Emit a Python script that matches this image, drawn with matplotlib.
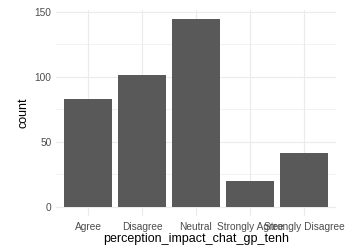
import matplotlib
matplotlib.use("Agg")
import matplotlib.pyplot as plt
from matplotlib.ticker import MultipleLocator

plt.rcParams['font.family'] = ['Liberation Sans', 'DejaVu Sans']

categories = ["Agree", "Disagree", "Neutral", "Strongly Agree", "Strongly Disagree"]
counts = [83, 101, 144, 20, 41]
y_ticks = [0, 50, 100, 150]

W, H = 354, 252
fig = plt.figure(figsize=(W / 100, H / 100), dpi=100)
left, right, top, bottom = 55.6, 336.4, 10.1, 216.0
ax = fig.add_axes([left / W, 1 - bottom / H, (right - left) / W, (bottom - top) / H])

x = list(range(1, len(categories) + 1))
ax.bar(x, counts, width=0.9, color="#595959", zorder=2)

ax.set_xlim(0.4, len(categories) + 0.6)
ymax = max(counts)
ax.set_ylim(-0.05 * ymax, ymax * 1.05)

ax.set_xticks(x)
ax.set_xticklabels(categories)
ax.set_yticks(y_ticks)
ax.yaxis.set_minor_locator(MultipleLocator(25))

ax.grid(which="major", color="#EBEBEB", linewidth=0.8, zorder=0)
ax.grid(which="minor", axis="y", color="#EBEBEB", linewidth=0.45, zorder=0)
ax.set_axisbelow(True)

for s in ax.spines.values():
    s.set_visible(False)
ax.tick_params(which="both", length=0)
ax.tick_params(axis="x", labelsize=7.3, labelcolor="#4D4D4D", pad=4)
ax.tick_params(axis="y", labelsize=7.3, labelcolor="#4D4D4D", pad=3)

ax.set_xlabel("perception_impact_chat_gp_tenh", fontsize=9, labelpad=1)
ax.set_ylabel("count", fontsize=9, labelpad=4)

fig.savefig("out.png", dpi=100)
